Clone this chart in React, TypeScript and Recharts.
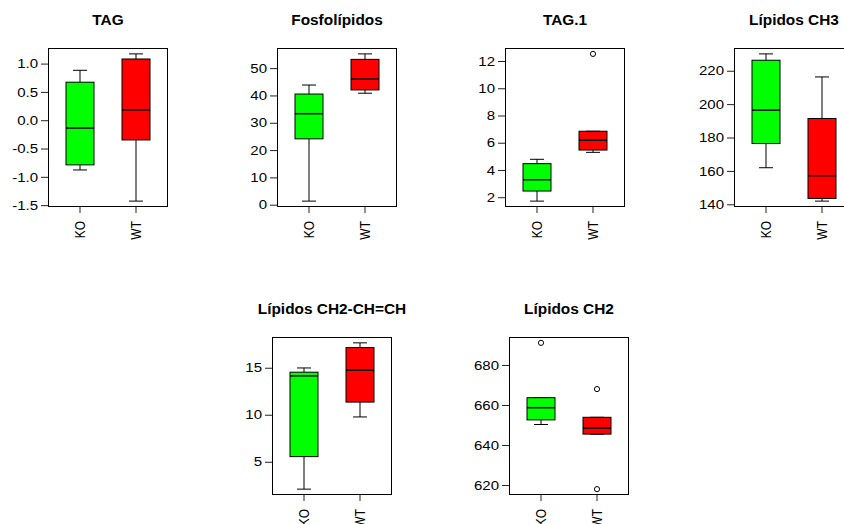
import React from 'react';
import { ComposedChart, Bar, Scatter, XAxis, YAxis } from 'recharts';

// ---------- data ----------
const groups = ['KO', 'WT'];

const titles = ['TAG', 'Fosfolípidos', 'TAG.1', 'Lípidos CH3', 'Lípidos CH2-CH=CH', 'Lípidos CH2'];

// TAG
const tagMin = [-0.87, -1.42];
const tagQ1 = [-0.78, -0.34];
const tagMed = [-0.13, 0.19];
const tagQ3 = [0.68, 1.09];
const tagMax = [0.89, 1.18];
const tagOut: number[][] = [[], []];
const tagTicks = [-1.5, -1.0, -0.5, 0.0, 0.5, 1.0];

// Fosfolípidos
const fosMin = [1.5, 41.0];
const fosQ1 = [24.3, 42.2];
const fosMed = [33.5, 46.2];
const fosQ3 = [40.7, 53.4];
const fosMax = [44.0, 55.4];
const fosOut: number[][] = [[], []];
const fosTicks = [0, 10, 20, 30, 40, 50];

// TAG.1
const tag1Min = [1.75, 5.33];
const tag1Q1 = [2.49, 5.5];
const tag1Med = [3.32, 6.22];
const tag1Q3 = [4.5, 6.88];
const tag1Max = [4.82, 6.88];
const tag1Out: number[][] = [[], [12.56]];
const tag1Ticks = [2, 4, 6, 8, 10, 12];

// Lípidos CH3
const ch3Min = [162.2, 142.2];
const ch3Q1 = [176.7, 143.8];
const ch3Med = [196.7, 157.4];
const ch3Q3 = [226.6, 191.7];
const ch3Max = [230.4, 216.6];
const ch3Out: number[][] = [[], []];
const ch3Ticks = [140, 160, 180, 200, 220];

// Lípidos CH2-CH=CH
const chchMin = [2.14, 9.82];
const chchQ1 = [5.6, 11.4];
const chchMed = [14.19, 14.79];
const chchQ3 = [14.58, 17.2];
const chchMax = [15.03, 17.7];
const chchOut: number[][] = [[], []];
const chchTicks = [5, 10, 15];

// Lípidos CH2
const ch2Min = [650.5, 645.7];
const ch2Q1 = [652.8, 645.7];
const ch2Med = [658.9, 648.7];
const ch2Q3 = [663.9, 654.1];
const ch2Max = [663.9, 654.1];
const ch2Out: number[][] = [[691.3], [668.2, 618.2]];
const ch2Ticks = [620, 640, 660, 680];

const tickDecimals = [1, 0, 0, 0, 0, 0];

// ---------- layout / style ----------
const groupColors = ['#00ff00', '#ff0000'];
const frames = [
  { left: 48, top: 48, h: 159 },
  { left: 277, top: 48, h: 159 },
  { left: 505, top: 48, h: 159 },
  { left: 734, top: 48, h: 159 },
  { left: 272, top: 337, h: 158 },
  { left: 509, top: 337, h: 158 },
];
const FRAME_W = 120;
const Y_W = 45;
const M_TOP = 5;
const X_H = 40;
const STRETCH = 1.25;
const FONT = '"Liberation Sans", Arial, Helvetica, sans-serif';

type Row = {
  name: string;
  min: number;
  q1: number;
  med: number;
  q3: number;
  max: number;
  out1: number | null;
  out2: number | null;
};

const buildRows = (
  mn: number[], q1: number[], md: number[], q3: number[], mx: number[], out: number[][]
): Row[] =>
  groups.map((g, i) => ({
    name: g,
    min: mn[i],
    q1: q1[i],
    med: md[i],
    q3: q3[i],
    max: mx[i],
    out1: out[i][0] ?? null,
    out2: out[i][1] ?? null,
  }));

const panels = [
  { rows: buildRows(tagMin, tagQ1, tagMed, tagQ3, tagMax, tagOut), ticks: tagTicks },
  { rows: buildRows(fosMin, fosQ1, fosMed, fosQ3, fosMax, fosOut), ticks: fosTicks },
  { rows: buildRows(tag1Min, tag1Q1, tag1Med, tag1Q3, tag1Max, tag1Out), ticks: tag1Ticks },
  { rows: buildRows(ch3Min, ch3Q1, ch3Med, ch3Q3, ch3Max, ch3Out), ticks: ch3Ticks },
  { rows: buildRows(chchMin, chchQ1, chchMed, chchQ3, chchMax, chchOut), ticks: chchTicks },
  { rows: buildRows(ch2Min, ch2Q1, ch2Med, ch2Q3, ch2Max, ch2Out), ticks: ch2Ticks },
];

const domainOf = (rows: Row[]): [number, number] => {
  const vals: number[] = [];
  rows.forEach((r) => {
    vals.push(r.min, r.max);
    if (r.out1 != null) vals.push(r.out1);
    if (r.out2 != null) vals.push(r.out2);
  });
  const lo = Math.min(...vals);
  const hi = Math.max(...vals);
  const r = hi - lo;
  return [lo - 0.04 * r, hi + 0.04 * r];
};

const BoxShape = (props: any) => {
  const { x, y, width, height, payload, index } = props;
  if (payload == null) return <g />;
  const top = Math.min(y, y + height);
  const bot = Math.max(y, y + height);
  const span = payload.max - payload.min;
  const py = (v: number) => (span === 0 ? bot : bot - ((v - payload.min) / span) * (bot - top));
  const cx = x + width / 2;
  const cap = width / 4;
  const yMax = py(payload.max);
  const yMin = py(payload.min);
  const yQ3 = py(payload.q3);
  const yQ1 = py(payload.q1);
  const yMed = py(payload.med);
  return (
    <g>
      <line x1={cx} x2={cx} y1={yMax} y2={yQ3} stroke="#000" strokeWidth={1} />
      <line x1={cx} x2={cx} y1={yQ1} y2={yMin} stroke="#000" strokeWidth={1} />
      <line x1={cx - cap} x2={cx + cap} y1={yMax} y2={yMax} stroke="#000" strokeWidth={1} />
      <line x1={cx - cap} x2={cx + cap} y1={yMin} y2={yMin} stroke="#000" strokeWidth={1} />
      <rect x={x} y={yQ3} width={width} height={Math.max(0, yQ1 - yQ3)} fill={groupColors[index % 2]} stroke="#000" strokeWidth={1} />
      <line x1={x} x2={x + width} y1={yMed} y2={yMed} stroke="#000" strokeWidth={1.5} />
    </g>
  );
};

const makeOutlier = (key: 'out1' | 'out2') => (props: any) => {
  const { cx, cy, payload } = props;
  if (!payload || payload[key] == null || cx == null || cy == null || isNaN(cy)) return <g />;
  return <circle cx={cx} cy={cy} r={2.6} fill="none" stroke="#000" strokeWidth={1} />;
};

const XTick = (props: any) => {
  const { x, y, payload } = props;
  return (
    <text
      x={x}
      y={y}
      transform={`translate(${x} ${y}) scale(${STRETCH} 1) rotate(-90) translate(${-x} ${-y})`}
      textAnchor="end"
      dy="0.35em"
      fontSize={12}
      fill="#000"
    >
      {payload.value}
    </text>
  );
};

const makeYTick = (dec: number) => (props: any) => {
  const { x, y, payload } = props;
  return (
    <text
      x={x}
      y={y}
      transform={`translate(${x} ${y}) scale(${STRETCH} 1) translate(${-x} ${-y})`}
      textAnchor="end"
      dy="0.35em"
      fontSize={12}
      fill="#000"
    >
      {Number(payload.value).toFixed(dec)}
    </text>
  );
};

const Panel = ({ idx }: { idx: number }) => {
  const f = frames[idx];
  const p = panels[idx];
  const W = Y_W + FRAME_W + 5;
  const H = M_TOP + f.h + X_H;
  const dec = tickDecimals[idx];
  const YTick = makeYTick(dec);
  return (
    <>
      <div
        style={{
          position: 'absolute',
          left: f.left + FRAME_W / 2 - 110,
          width: 220,
          top: f.top - 28 - 9,
          height: 18,
          lineHeight: '18px',
          textAlign: 'center',
          fontWeight: 'bold',
          fontSize: 14,
          whiteSpace: 'nowrap',
          color: '#000',
          transform: 'scaleX(1.1)',
        }}
      >
        {titles[idx]}
      </div>
      <div style={{ position: 'absolute', left: f.left - Y_W, top: f.top - M_TOP, width: W, height: H }}>
        <ComposedChart
          width={W}
          height={H}
          data={p.rows}
          margin={{ top: M_TOP, right: 5, bottom: 0, left: 0 }}
        >
          <XAxis
            dataKey="name"
            type="category"
            height={X_H}
            padding={{ left: 4, right: 4 }}
            axisLine={false}
            tickLine={{ stroke: '#222' }}
            tickSize={6}
            tickMargin={8}
            tick={<XTick />}
            interval={0}
          />
          <YAxis
            type="number"
            width={Y_W}
            domain={domainOf(p.rows)}
            ticks={p.ticks}
            allowDataOverflow
            interval={0}
            axisLine={false}
            tickLine={{ stroke: '#222' }}
            tickSize={7}
            tickMargin={3}
            tick={<YTick />}
          />
          <Bar
            dataKey={(d: Row) => [d.min, d.max]}
            barSize={28}
            shape={BoxShape}
            isAnimationActive={false}
          />
          <Scatter dataKey="out1" shape={makeOutlier('out1')} isAnimationActive={false} />
          <Scatter dataKey="out2" shape={makeOutlier('out2')} isAnimationActive={false} />
        </ComposedChart>
        <div
          style={{
            position: 'absolute',
            left: Y_W,
            top: M_TOP,
            width: FRAME_W,
            height: f.h,
            border: '1px solid #000',
            boxSizing: 'border-box',
            pointerEvents: 'none',
          }}
        />
      </div>
    </>
  );
};

export default function App() {
  return (
    <div
      style={{
        position: 'absolute',
        left: 0,
        top: 0,
        width: 844,
        height: 524,
        overflow: 'hidden',
        background: '#fff',
        fontFamily: FONT,
      }}
    >
      {frames.map((_, i) => (
        <Panel key={i} idx={i} />
      ))}
    </div>
  );
}
